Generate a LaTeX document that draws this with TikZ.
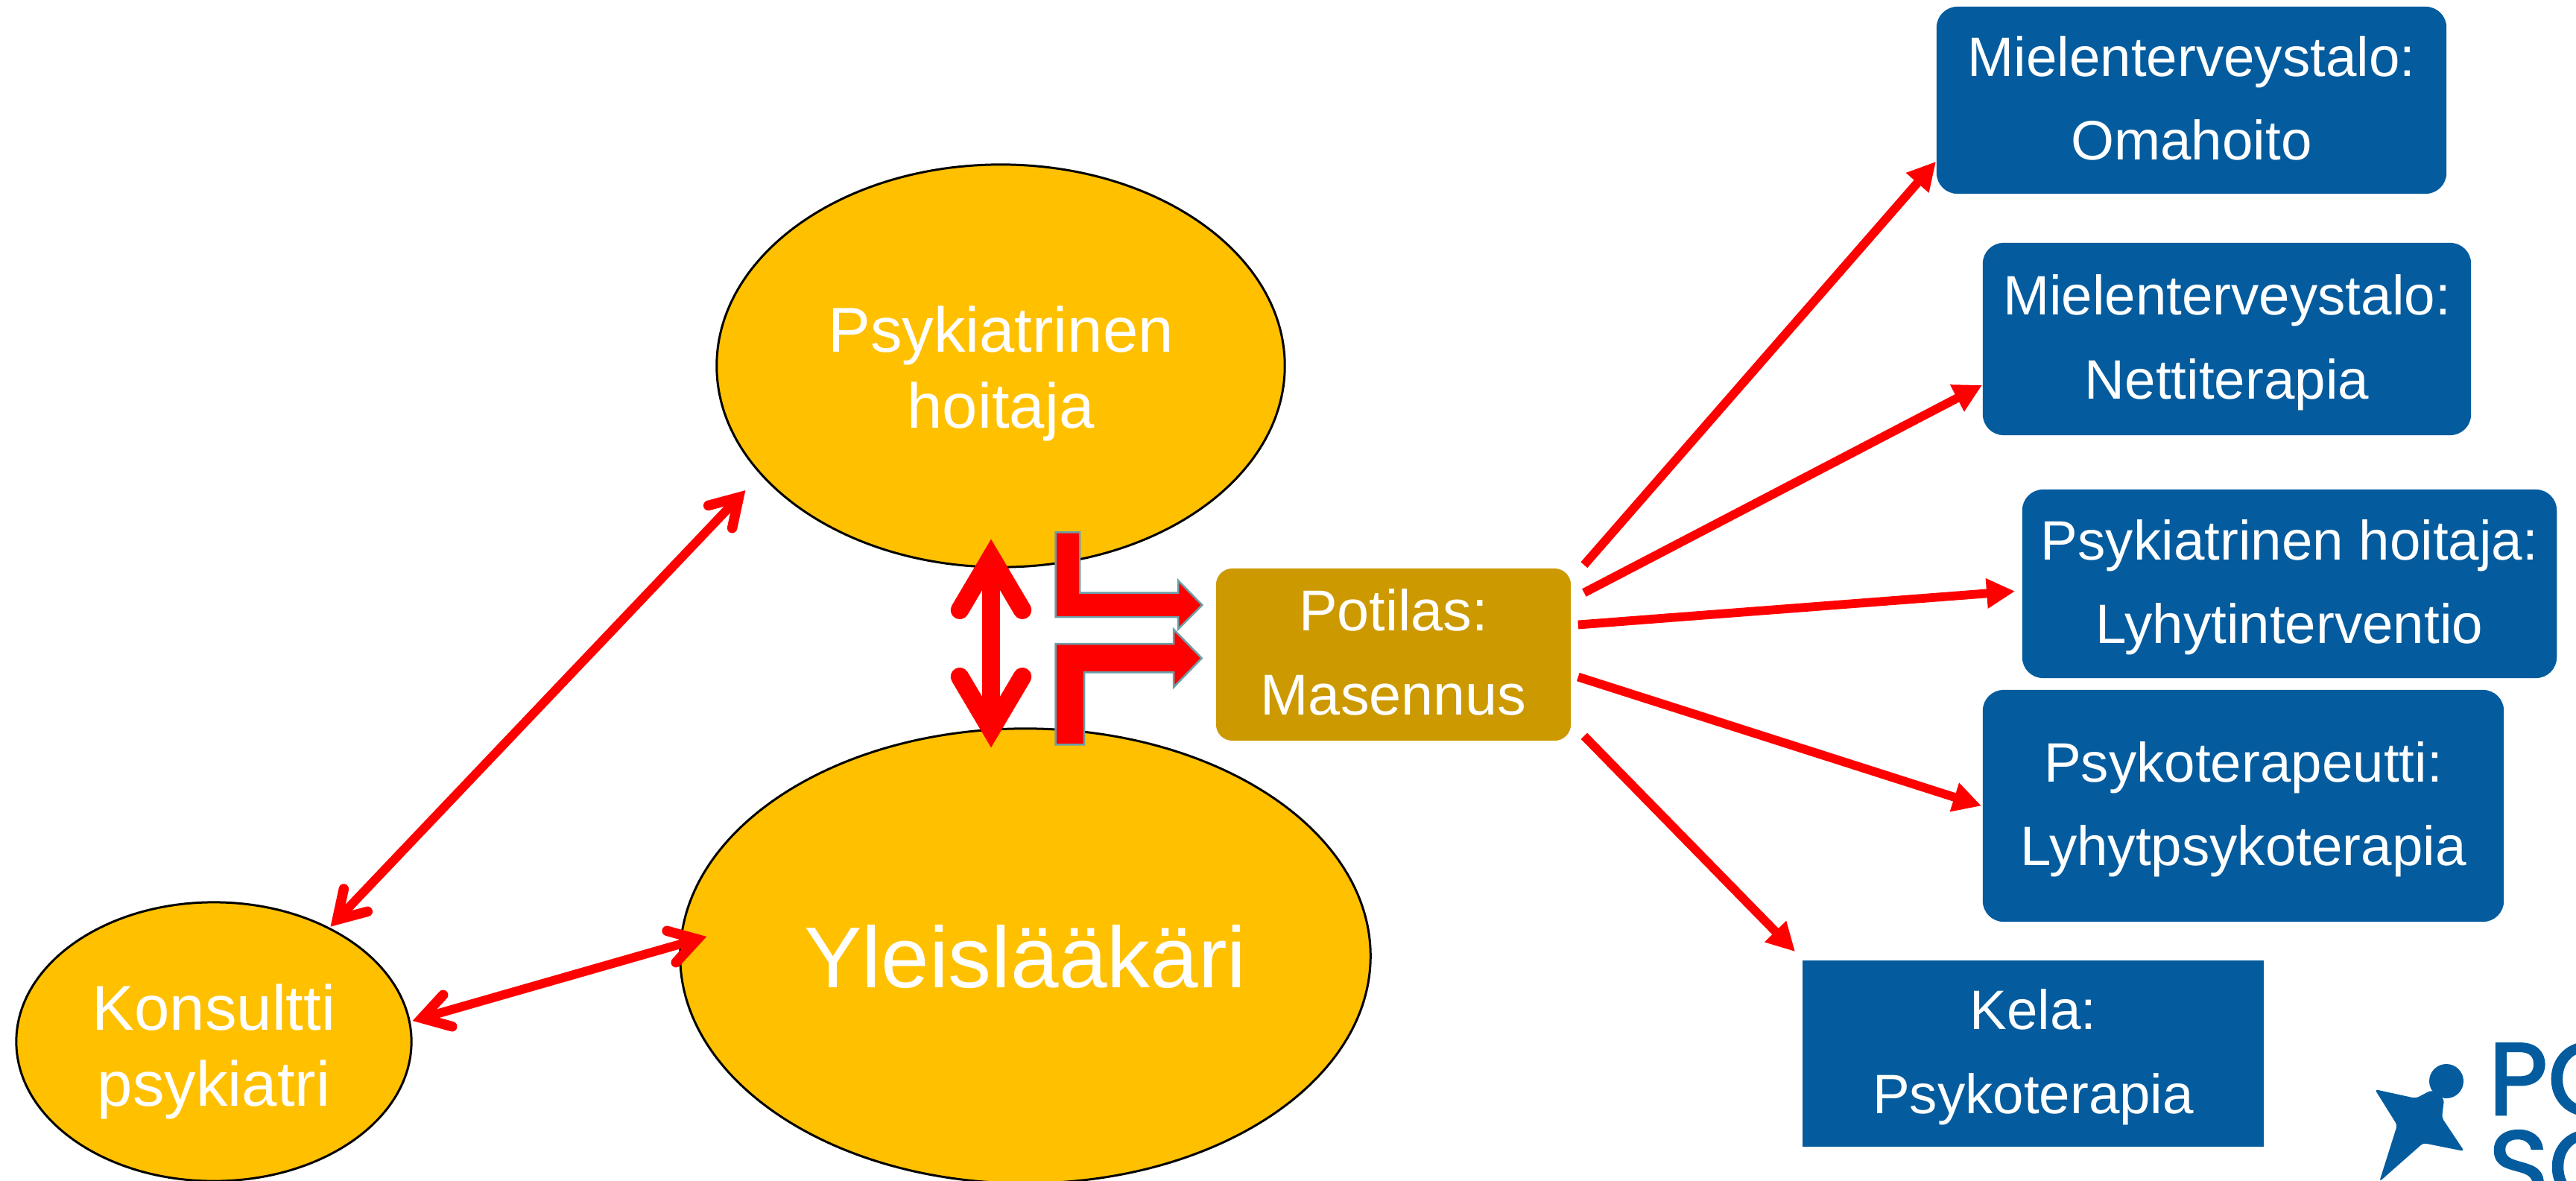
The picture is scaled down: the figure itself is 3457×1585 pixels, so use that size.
\documentclass[tikz,border=0pt]{standalone}
\usepackage{fontspec}
\setmainfont{Liberation Sans}
\newfontfamily\logofont[FakeBold=2]{Poppins}
\usetikzlibrary{shapes.geometric,arrows.meta}
\definecolor{hoitoorange}{HTML}{FFC000}
\definecolor{potilasgold}{HTML}{CC9900}
\definecolor{palvelublue}{HTML}{045C9E}
\definecolor{bentedge}{HTML}{6A9FA8}
\tikzset{
  toimija/.style={ellipse,draw=black,line width=0.03cm,fill=hoitoorange,text=white,inner sep=0pt,align=center,font=\fontsize{24.2}{29}\selectfont,text height=52.3pt,text depth=5pt},
  potilasbox/.style={rectangle,rounded corners=0.22cm,fill=potilasgold,text=white,inner sep=0pt,align=center,minimum width=4.76cm,minimum height=2.31cm,font=\fontsize{22}{32}\selectfont,text height=51.8pt,text depth=5.8pt},
  palvelu/.style={rectangle,rounded corners=0.28cm,fill=palvelublue,text=white,inner sep=0pt,align=center,font=\fontsize{21.2}{32}\selectfont,text height=50.8pt,text depth=5.1pt},
  fan/.style={red,line width=0.118cm,-{Triangle[length=0.38cm,width=0.38cm]}},
  link/.style={red,line width=0.12cm,{Straight Barb[length=0.36cm,width=0.44cm,line width=0.135cm,line cap=round,line join=miter]}-{Straight Barb[length=0.36cm,width=0.44cm,line width=0.135cm,line cap=round,line join=miter]}},
  biglink/.style={red,line width=0.24cm,{Straight Barb[length=0.71cm,width=0.84cm,line width=0.245cm,line cap=round,line join=miter]}-{Straight Barb[length=0.71cm,width=0.84cm,line width=0.245cm,line cap=round,line join=miter]}},
  bent/.style={draw=bentedge,fill=red,line width=0.025cm,miter limit=10}
}
\begin{document}
\begin{tikzpicture}[x=0.01cm,y=-0.01cm]
   \clip (0,0) rectangle (3457,1585);
   \fill[white] (0,0) rectangle (3457,1585);

   \node[toimija,minimum width=7.62cm,minimum height=5.4cm] (hoitaja) at (1343,491) {Psykiatrinen\\hoitaja};
   \node[toimija,minimum width=9.26cm,minimum height=6.1cm,font=\fontsize{33}{40}\selectfont,text height=24pt,text depth=0pt] (laakari) at (1376,1283) {Yleislääkäri};
   \node[toimija,minimum width=5.3cm,minimum height=3.74cm,text height=54.2pt] (konsultti) at (287,1398) {Konsultti\\psykiatri};
   \node[potilasbox] (potilas) at (1870,878.5) {Potilas:\\Masennus};

   \node[palvelu,minimum width=6.84cm,minimum height=2.51cm] (omahoito) at (2941,134.5) {Mielenterveystalo:\\Omahoito};
   \node[palvelu,minimum width=6.55cm,minimum height=2.58cm] (netti) at (2988.5,455) {Mielenterveystalo:\\Nettiterapia};
   \node[palvelu,minimum width=7.17cm,minimum height=2.53cm] (lyhyt) at (3072.5,783.5) {Psykiatrinen hoitaja:\\Lyhytinterventio};
   \node[palvelu,minimum width=6.99cm,minimum height=3.11cm] (terapeutti) at (3010.5,1081.5) {Psykoterapeutti:\\Lyhytpsykoterapia};
   \node[palvelu,rounded corners=0pt,minimum width=6.19cm,minimum height=2.5cm] (kela) at (2728.5,1414) {Kela:\\Psykoterapia};

   \draw[fan] ([shift={(17,-4)}]potilas.north east) -- ([shift={(0,-44)}]omahoito.south west);
   \draw[fan] ([shift={(17,-83)}]potilas.east) -- ([shift={(0,-68)}]netti.south west);
   \draw[fan] ([shift={(9,-40)}]potilas.east) -- ([shift={(-9,10)}]lyhyt.west);
   \draw[fan] ([shift={(9,30)}]potilas.east) -- ([shift={(-1,0)}]terapeutti.west);
   \draw[fan] ([shift={(17,-7)}]potilas.south east) -- ([shift={(-9,-11)}]kela.north west);

   \draw[link] ([shift={(-72,-25)}]hoitaja.south west) -- ([shift={(-32,-21)}]konsultti.north east);
   \draw[link] ([shift={(0,-28)}]konsultti.east) -- ([shift={(37,-26)}]laakari.west);
   \draw[biglink] ([shift={(-13,-39)}]hoitaja.south) -- ([shift={(-46,27)}]laakari.north);

   \draw[bent] (1416.7,714.3) -- (1449,714.3) -- (1449,795.7) -- (1581,795.7) -- (1581,779) -- (1613.3,812) -- (1581,844.3) -- (1581,828) -- (1416.7,828) -- cycle;
   \draw[bent] (1416.7,864) -- (1575,864) -- (1575,844.7) -- (1612.7,883.3) -- (1575,922.3) -- (1575,902.3) -- (1455,902.3) -- (1455,999.3) -- (1416.7,999.3) -- cycle;

   \fill[palvelublue,rounded corners=0.04cm] (3187,1462) -- (3242,1474) -- (3263,1463) -- (3280,1475) -- (3277,1500) -- (3307,1545) -- (3252,1534) -- (3193,1586) -- (3217,1510) -- cycle;
   \fill[palvelublue] (3283,1451) circle(23);
   \node[anchor=base west,inner sep=0pt,text=palvelublue,font=\logofont\fontsize{39}{39}\selectfont] (logoa) at (3339,1496) {PO};
   \node[anchor=base west,inner sep=0pt,text=palvelublue,font=\logofont\fontsize{39}{39}\selectfont] (logob) at (3339,1614) {SO};
\end{tikzpicture}
\end{document}
